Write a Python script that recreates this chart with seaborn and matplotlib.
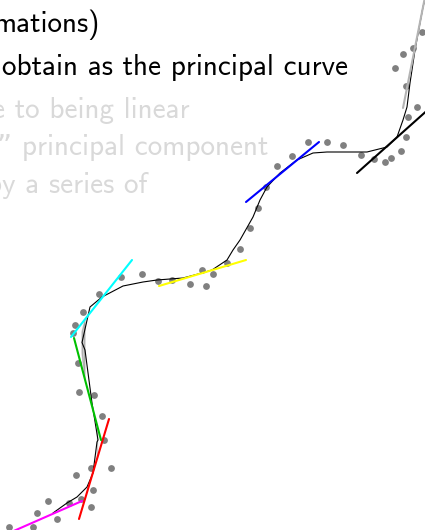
import matplotlib
matplotlib.use("Agg")
import matplotlib.pyplot as plt
import numpy as np
import pandas as pd
import seaborn as sns

# Observed sample points (screen-like coordinates, y grows downward)
pts_x = [9, 33, 37, 57, 48, 69, 81, 91, 93, 76, 91, 111, 104, 102, 79, 94, 78,
         73, 75, 83, 99, 121, 142, 158, 172, 190, 202, 206, 213, 227, 240, 250,
         258, 266, 277, 292, 308, 327, 343, 361, 374, 385, 391, 401, 406, 408,
         417, 406, 395, 403, 413, 422]
pts_y = [527, 527, 513, 519, 501, 503, 499, 507, 490, 475, 468, 468, 440, 416,
         392, 395, 363, 333, 325, 312, 294, 277, 274, 281, 280, 284, 270, 286,
         274, 263, 249, 228, 208, 187, 166, 156, 142, 142, 145, 155, 159, 162,
         158, 151, 137, 117, 107, 86, 68, 54, 48, 32]

# Fitted principal curve
curve_x = [53, 60, 67, 77, 87, 93, 97, 98, 97, 92, 85, 82, 82, 85, 90, 102, 123,
           143, 157, 183, 202, 212, 227, 233, 240, 253, 260, 267, 280, 297, 313,
           327, 345, 367, 387, 397, 403, 407, 410, 415, 420, 423, 426]
curve_y = [513, 508, 503, 497, 487, 473, 457, 440, 427, 403, 380, 353, 332, 320,
           307, 297, 286, 282, 280, 278, 273, 270, 260, 250, 240, 217, 200, 187,
           173, 160, 153, 152, 152, 152, 147, 137, 120, 107, 83, 50, 23, 7, -5]

# Local tangent segments along the curve: (x0, x1), (y0, y1), colour
seg_x = [(0, 82), (79, 109), (74, 101), (71, 132), (159, 246), (246, 319),
         (357, 440), (403, 426)]
seg_y = [(537, 501), (519, 419), (338, 440), (337, 260), (286, 260), (202, 142),
         (173, 99), (108, -8)]
seg_colors = ["#ff00ff", "#ff0000", "#00c000", "#00ffff", "#ffff00", "#0000ff",
              "#000000", "#b4b4b4"]

sns.set_theme(style="white")
plt.rcParams["font.family"] = ["cmss10", "DejaVu Sans"]
plt.rcParams["axes.unicode_minus"] = False

fig = plt.figure(figsize=(4.25, 5.30), dpi=100)
ax = fig.add_axes([0, 0, 1, 1])

dots = pd.DataFrame({"x": pts_x, "y": pts_y})
sns.scatterplot(data=dots, x="x", y="y", ax=ax, color="#808080", s=24,
                linewidth=0, zorder=2)

curve = pd.DataFrame({"x": curve_x, "y": curve_y})
sns.lineplot(data=curve, x="x", y="y", ax=ax, sort=False, color="black",
             linewidth=0.8, zorder=3)

for xs, ys, c in zip(seg_x, seg_y, seg_colors):
    sns.lineplot(x=list(xs), y=list(ys), ax=ax, sort=False, color=c,
                 linewidth=1.5, zorder=4)

# Slide text
fs = 21
ax.text(100, 32, "mations)", ha="right", va="baseline", fontsize=fs,
        color="black")
ax.text(348, 75, "obtain as the principal curve", ha="right", va="baseline",
        fontsize=fs, color="black")
grey = "#d9d9d9"
ax.text(190, 118, "e to being linear", ha="right", va="baseline", fontsize=fs,
        color=grey)
ax.text(268, 155, "\u201d principal component", ha="right", va="baseline",
        fontsize=fs, color=grey)
ax.text(147, 193, "by a series of", ha="right", va="baseline", fontsize=fs,
        color=grey)

ax.set_xlim(0, 425)
ax.set_ylim(530, 0)
ax.set_axis_off()

fig.savefig("out.png", dpi=100)
